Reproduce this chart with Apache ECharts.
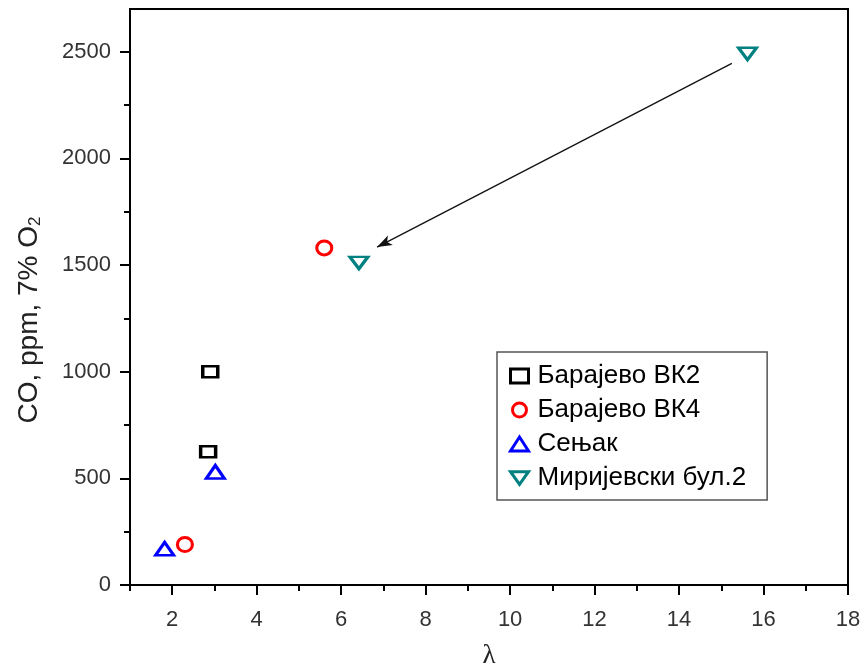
<!DOCTYPE html>
<html>
<head>
<meta charset="utf-8">
<script src="https://cdn.jsdelivr.net/npm/echarts@6/dist/echarts.min.js"></script>
<style>
  html, body { margin: 0; padding: 0; background: #fff; }
  #chart { width: 863px; height: 670px; }
</style>
</head>
<body>
<div id="chart"></div>
<script>
// Excess air ratio (λ) versus CO concentration at four sites
const seriesNames = ['Барајево ВК2', 'Барајево ВК4', 'Сењак', 'Миријевски бул.2'];
const barajevoVK2 = [[2.90, 1000], [2.85, 625]];
const barajevoVK4 = [[5.60, 1580], [2.30, 190]];
const senjak = [[3.02, 530], [1.82, 170]];
const mirijevski = [[15.62, 2490], [6.42, 1510]];

// Arrow from the upper Mirijevski point towards the lower one
const arrowFrom = [15.25, 2445];
const arrowTo = [6.85, 1584];

const xTicks = [2, 4, 6, 8, 10, 12, 14, 16, 18];
const xMinorTicks = [1, 3, 5, 7, 9, 11, 13, 15, 17];
const yTicks = [0, 500, 1000, 1500, 2000, 2500];
const yMinorTicks = [250, 750, 1250, 1750, 2250];

const X_MIN = 1, X_MAX = 18, Y_MIN = 0, Y_MAX = 2700;

const chart = echarts.init(document.getElementById('chart'), null, { renderer: 'canvas' });

const FONT = 'Liberation Sans, Arial, sans-serif';
const tickLabelStyle = { fontFamily: FONT, fontSize: 22, color: '#333', formatter: v => String(v) };
const axisLineStyle = { color: '#000', width: 2 };

function hollow(color) {
  return { color: '#fff', borderColor: color, borderWidth: 3, opacity: 1 };
}

const downTriangle = 'path://M0,0 L20,0 L10,14 Z';

chart.setOption({
  animation: false,
  backgroundColor: '#fff',
  grid: {
    left: 130, right: 15, top: 9, bottom: 85,
    outerBoundsMode: 'none',
    containLabel: false,
    show: true, borderColor: '#000', borderWidth: 2, backgroundColor: 'transparent'
  },
  legend: {
    orient: 'vertical',
    left: 497, top: 352,
    padding: [11, 21, 9, 12],
    itemGap: 8,
    itemWidth: 18, itemHeight: 14,
    borderColor: '#555', borderWidth: 1.5,
    backgroundColor: '#fff',
    itemStyle: { borderWidth: 3, opacity: 1 },
    textStyle: {
      fontFamily: FONT,
      fontSize: 26, color: '#000',
      padding: [0, 0, 0, 4]
    },
    data: seriesNames
  },
  xAxis: [
    {
      type: 'value', min: X_MIN, max: X_MAX,
      name: 'λ', nameLocation: 'middle', nameGap: 57,
      nameTextStyle: { fontFamily: 'Liberation Serif, Times New Roman, serif', fontSize: 27, color: '#222' },
      splitLine: { show: false },
      axisLine: { show: true, onZero: false, lineStyle: axisLineStyle },
      axisTick: { show: true, inside: false, length: 10, lineStyle: { color: '#000', width: 2 }, customValues: xTicks },
      axisLabel: Object.assign({ margin: 24, customValues: xTicks }, tickLabelStyle)
    },
    {
      type: 'value', min: X_MIN, max: X_MAX, position: 'bottom',
      splitLine: { show: false },
      axisLine: { show: false },
      axisTick: { show: true, inside: false, length: 6, lineStyle: { color: '#000', width: 2 }, customValues: xMinorTicks },
      axisLabel: { show: false }
    }
  ],
  yAxis: [
    {
      type: 'value', min: Y_MIN, max: Y_MAX,
      name: 'CO, ppm, 7% O{sub|2}', nameLocation: 'middle', nameGap: 86, nameRotate: 90,
      nameTextStyle: {
        fontFamily: FONT, fontSize: 28, color: '#222',
        padding: [0, 46, 0, 0],
        rich: { sub: { fontSize: 17, verticalAlign: 'bottom', padding: [13, 0, 0, 0], fontFamily: FONT, color: '#222' } }
      },
      splitLine: { show: false },
      axisLine: { show: true, onZero: false, lineStyle: axisLineStyle },
      axisTick: { show: true, inside: false, length: 10, lineStyle: { color: '#000', width: 2 }, customValues: yTicks },
      axisLabel: Object.assign({ margin: 19, customValues: yTicks }, tickLabelStyle)
    },
    {
      type: 'value', min: Y_MIN, max: Y_MAX, position: 'left',
      splitLine: { show: false },
      axisLine: { show: false },
      axisTick: { show: true, inside: false, length: 6, lineStyle: { color: '#000', width: 2 }, customValues: yMinorTicks },
      axisLabel: { show: false }
    }
  ],
  series: [
    {
      name: seriesNames[0], type: 'scatter', xAxisIndex: 0, yAxisIndex: 0,
      symbol: 'rect', symbolSize: [15, 11],
      itemStyle: hollow('#000'),
      data: barajevoVK2
    },
    {
      name: seriesNames[1], type: 'scatter', xAxisIndex: 0, yAxisIndex: 0,
      symbol: 'circle', symbolSize: [15, 14],
      itemStyle: hollow('#ff0000'),
      data: barajevoVK4
    },
    {
      name: seriesNames[2], type: 'scatter', xAxisIndex: 0, yAxisIndex: 0,
      symbol: 'triangle', symbolSize: [18, 13],
      itemStyle: hollow('#0000ff'),
      data: senjak
    },
    {
      name: seriesNames[3], type: 'scatter', xAxisIndex: 0, yAxisIndex: 0,
      symbol: downTriangle, symbolSize: [18, 12],
      itemStyle: hollow('#008080'),
      data: mirijevski,
      markLine: {
        silent: true,
        animation: false,
        symbol: ['none', 'arrow'],
        symbolSize: [8, 15],
        label: { show: false },
        lineStyle: { color: '#111', width: 1.3, type: 'solid', opacity: 1 },
        data: [[{ coord: arrowFrom }, { coord: arrowTo }]]
      }
    }
  ]
});
</script>
</body>
</html>
